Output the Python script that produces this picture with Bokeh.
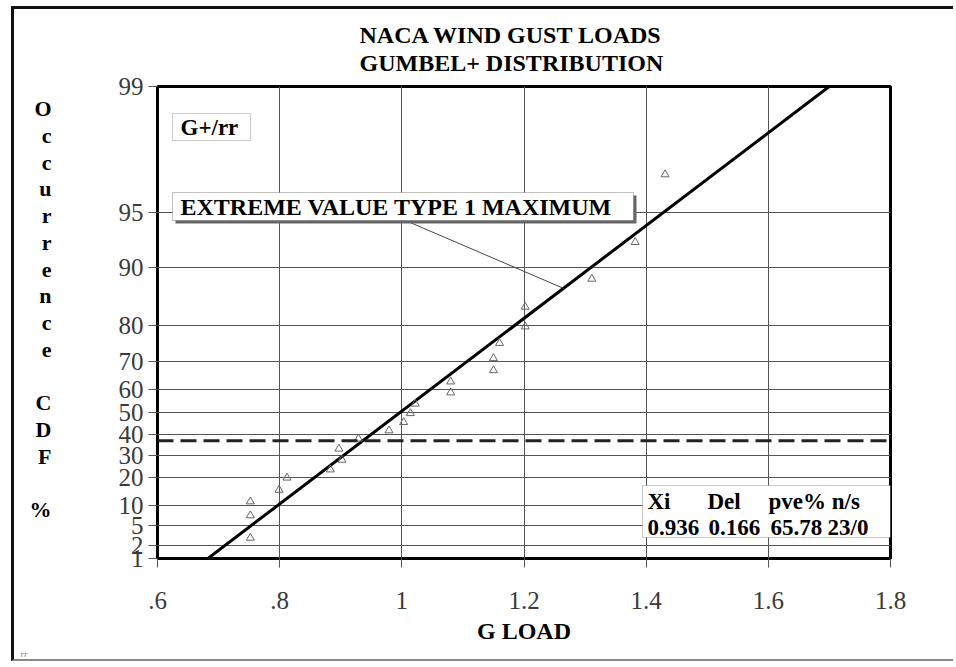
import math
from bokeh.plotting import figure
from bokeh.models import FixedTicker, Label, BoxAnnotation, Span, Title
from bokeh.embed import file_html
from bokeh.resources import INLINE

# ---------------- data ----------------
g_load = [0.752, 0.752, 0.752, 0.799, 0.812, 0.883, 0.902, 0.897, 0.929, 0.979,
          1.003, 1.014, 1.022, 1.080, 1.080, 1.150, 1.150, 1.160, 1.202, 1.202,
          1.311, 1.382, 1.431]
cdf_pct = [2.95, 7.17, 11.1, 15.1, 19.9, 23.4, 27.8, 33.0, 37.8, 41.7,
           45.6, 49.7, 53.9, 58.6, 62.9, 67.0, 71.0, 75.5, 79.7, 83.9,
           88.5, 92.7, 96.9]
x_ticks = [0.6, 0.8, 1.0, 1.2, 1.4, 1.6, 1.8]
x_tick_labels = [".6", ".8", "1", "1.2", "1.4", "1.6", "1.8"]
y_tick_pct = [1, 2, 5, 10, 20, 30, 40, 50, 60, 70, 80, 90, 95, 99]
y_tick_labels = ["1", "2", "5", "10", "20", "30", "40", "50", "60", "70", "80", "90", "95", "99"]
xi = 0.936
delta = 0.166
pve = "65.78"
n_s = "23/0"
mode_pct = 100 * math.exp(-1)   # dashed line (mode of the distribution)


def gumbel(pct):
    """Gumbel (EV1 max) reduced variate for a CDF percentage."""
    return -math.log(-math.log(pct / 100.0))


X0, X1 = 0.6, 1.8
Z0, Z1 = gumbel(1), gumbel(99)

# reference frame geometry (page px) used for annotation placement
FL, FT, FW, FH = 157, 86, 733, 472


def fx(px):
    return X0 + (px - FL) / FW * (X1 - X0)


def fz(py):
    return Z1 - (py - FT) / FH * (Z1 - Z0)


FONT = "Liberation Serif"

p = figure(width=942, height=655, x_range=(X0, X1), y_range=(Z0, Z1),
           output_backend="svg", toolbar_location=None,
           min_border_left=143, min_border_right=66,
           min_border_top=77, min_border_bottom=106)
p.styles = {"margin-left": "11px", "margin-top": "6px",
            "border-left": "3px solid #111", "border-top": "3px solid #111",
            "border-bottom": "2px solid #888"}
p.background_fill_color = "white"
p.border_fill_color = "white"
p.outline_line_color = "black"
p.outline_line_width = 3

# two-line title
p.add_layout(Title(text="NACA WIND GUST LOADS\nGUMBEL+ DISTRIBUTION", align="left", offset=202,
                   standoff=20, text_font=FONT, text_font_size="24px", text_font_style="bold",
                   text_color="black", text_line_height=1.1), "above")

# axes
p.xaxis.ticker = FixedTicker(ticks=x_ticks)
p.xaxis.major_label_overrides = {t: l for t, l in zip(x_ticks, x_tick_labels)}
y_tick_z = [gumbel(v) for v in y_tick_pct]
p.yaxis.ticker = FixedTicker(ticks=y_tick_z)
p.yaxis.major_label_overrides = {t: l for t, l in zip(y_tick_z, y_tick_labels)}
for ax in (p.xaxis[0], p.yaxis[0]):
    ax.axis_line_color = None
    ax.major_tick_out = 9
    ax.major_tick_in = 0
    ax.major_tick_line_color = "#555"
    ax.minor_tick_line_color = None
    ax.major_label_text_font = FONT
    ax.major_label_text_font_size = "25px"
    ax.major_label_text_color = "#3a3a3a"
    ax.axis_label_text_font = FONT
    ax.axis_label_text_font_style = "bold"
    ax.axis_label_text_color = "black"
p.xaxis.major_label_standoff = 24
p.yaxis.major_label_standoff = 5

p.xaxis.axis_label = "G LOAD"
p.xaxis.axis_label_text_font_size = "24px"
p.xaxis.axis_label_standoff = 6

p.yaxis.axis_label = "\n".join(list("Occurrence")) + "\n\nC\nD\nF\n\n%\n"
p.yaxis.axis_label_orientation = "horizontal"
p.yaxis.axis_label_text_font_size = "22px"
p.yaxis.axis_label_text_line_height = 1.07
p.yaxis.axis_label_standoff = 64

# tiny mark in the bottom-left corner
p.add_layout(Title(text="rr", align="left", offset=-137, standoff=0, text_font=FONT,
                   text_font_size="9px", text_font_style="italic", text_color="#888"), "below")

p.xgrid.ticker = FixedTicker(ticks=x_ticks)
p.ygrid.ticker = FixedTicker(ticks=y_tick_z)
for g in (p.xgrid[0], p.ygrid[0]):
    g.grid_line_color = "#555"
    g.grid_line_width = 1

# dashed mode line
p.add_layout(Span(location=gumbel(mode_pct), dimension="width", line_color="#222",
                  line_width=3, line_dash="16 7"))

# fitted EV1 line
p.line([xi + delta * Z0, xi + delta * Z1], [Z0, Z1], line_color="black", line_width=3)

# data points
p.scatter(g_load, [gumbel(c) for c in cdf_pct], marker="triangle", size=8,
          fill_color=None, line_color="#666", line_width=1)

# leader line from label to the fit line
z_lead = 1.98
p.line([fx(405), xi + delta * z_lead], [fz(220), z_lead], line_color="#444", line_width=1)

# boxes
p.add_layout(BoxAnnotation(left=fx(172), right=fx(250), top=fz(113), bottom=fz(140),
                           fill_color="white", fill_alpha=1, line_color="#555", line_width=1))
p.add_layout(BoxAnnotation(left=fx(175), right=fx(636), top=fz(195), bottom=fz(223),
                           fill_color="#666", fill_alpha=1, line_color=None))
p.add_layout(BoxAnnotation(left=fx(172), right=fx(633), top=fz(192), bottom=fz(220),
                           fill_color="white", fill_alpha=1, line_color="#333", line_width=1))
p.add_layout(BoxAnnotation(left=fx(642), right=X1, top=fz(485), bottom=fz(537),
                           fill_color="white", fill_alpha=1, line_color="#444", line_width=1))


def lab(text, px, py, size, bold=True, align="left", baseline="middle", color="black"):
    return Label(x=X0, y=Z1, x_offset=px - FL, y_offset=-(py - FT), text=text,
                 text_font=FONT, text_font_size=f"{size}px",
                 text_font_style="bold" if bold else "normal",
                 text_align=align, text_baseline=baseline, text_color=color)


# in-plot texts
p.add_layout(lab("G+/rr", 180, 127, 23))
p.add_layout(lab("EXTREME VALUE TYPE 1 MAXIMUM", 180, 206, 24))
row1 = ["Xi", "Del", "pve% n/s"]
row1_x = [647, 707, 768]
row2 = [f"{xi:.3f}", f"{delta:.3f}", pve, n_s]
row2_x = [647, 708, 770, 827]
for t, px in zip(row1, row1_x):
    p.add_layout(lab(t, px, 501, 23))
for t, px in zip(row2, row2_x):
    p.add_layout(lab(t, px, 527, 23))

open("out.html", "w").write(file_html(p, INLINE))
